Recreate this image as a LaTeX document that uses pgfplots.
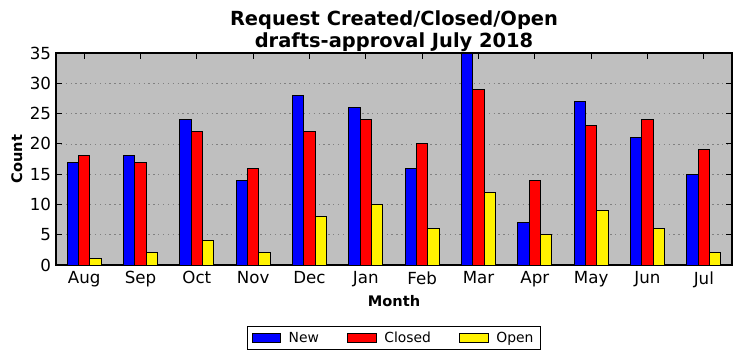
\documentclass[border=0pt]{standalone}
\usepackage{pgfplots}
\pgfplotsset{compat=1.18}
\usepackage{fontspec}
\setmainfont{DejaVu Sans}
\definecolor{bgc}{RGB}{191,191,191}
\definecolor{gridc}{RGB}{128,128,128}
\begin{document}
\begin{tikzpicture}
\path[use as bounding box] (-40.32pt,-69.12pt) rectangle (493.92pt,190.8pt);
\begin{axis}[
  at={(0,0)}, anchor=south west,
  scale only axis, width=486.72pt, height=152.64pt,
  xmin=-0.5, xmax=11.5, ymin=0, ymax=35,
  xtick={0,...,11},
  xticklabels={Aug,Sep,Oct,Nov,Dec,Jan,Feb,Mar,Apr,May,Jun,Jul},
  ytick={0,5,...,35},
  tick align=inside, tick pos=both, major tick length=4pt,
  axis line style={line width=0.8pt},
  tick style={line width=0.6pt, black},
  axis background/.style={fill=bgc},
  ymajorgrids, major grid style={gridc, line width=0.5pt, dash pattern=on 1pt off 2.5pt},
  /pgf/number format/assume math mode=true,
  tick label style={font=\fontsize{12}{14}\selectfont},
  xticklabel style={yshift=-1.2pt},
  title={Request Created/Closed/Open\\drafts-approval July 2018},
  title style={font=\bfseries\fontsize{14}{15.4}\selectfont, align=center, at={(0.5,1)}, anchor=south, inner sep=0pt, yshift=-5pt},
  xlabel={Month},
  xlabel style={font=\bfseries\fontsize{10.5}{12}\selectfont, at={(axis description cs:0.5,-0.198)}, anchor=base},
  ylabel={Count},
  ylabel style={font=\bfseries\fontsize{10.5}{12}\selectfont, at={(axis description cs:-0.0503,0.5)}, anchor=base, rotate=0},
  legend columns=3,
  legend style={at={(axis description cs:0.5,-0.3445)}, anchor=center, draw=black, line width=0.8pt, fill=white,
    font=\fontsize{10}{12}\selectfont, inner xsep=3pt, inner ysep=1.5pt,
    /tikz/every odd column/.append style={column sep=3.5pt},
    /tikz/every even column/.append style={column sep=18.5pt}},
  legend image code/.code={\draw[#1, line width=0.6pt] (0pt,-3.2pt) rectangle (20.5pt,3.2pt);},
]
\addplot[ybar, bar width=0.2, bar shift=-0.2, fill=blue, draw=black, line width=0.7pt] coordinates {
(0,17) (1,18) (2,24) (3,14) (4,28) (5,26) (6,16) (7,35) (8,7) (9,27) (10,21) (11,15)};
\addplot[ybar, bar width=0.2, bar shift=0, fill=red, draw=black, line width=0.7pt] coordinates {
(0,18) (1,17) (2,22) (3,16) (4,22) (5,24) (6,20) (7,29) (8,14) (9,23) (10,24) (11,19)};
\addplot[ybar, bar width=0.2, bar shift=0.2, fill=yellow, draw=black, line width=0.7pt] coordinates {
(0,1) (1,2) (2,4) (3,2) (4,8) (5,10) (6,6) (7,12) (8,5) (9,9) (10,6) (11,2)};
\legend{New,Closed,Open}
\end{axis}
\end{tikzpicture}
\end{document}
